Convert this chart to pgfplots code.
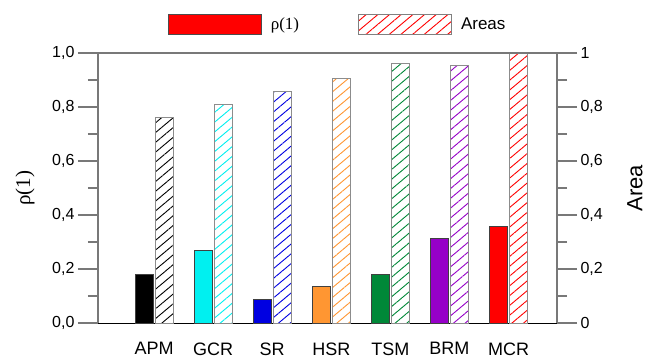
\documentclass[border=0pt]{standalone}
\usepackage{pgfplots}
\pgfplotsset{compat=1.18}
\usepackage{fontspec}
\setmainfont{Liberation Sans}
\newfontfamily\serifrho{Liberation Serif}
\usetikzlibrary{patterns.meta,calc}
\definecolor{cAPM}{RGB}{0,0,0}
\definecolor{cGCR}{RGB}{0,240,240}
\definecolor{cSR}{RGB}{0,0,225}
\definecolor{cHSR}{RGB}{255,150,50}
\definecolor{cTSM}{RGB}{0,136,56}
\definecolor{cBRM}{RGB}{150,0,200}
\definecolor{cMCR}{RGB}{255,0,0}
\definecolor{axgray}{RGB}{120,120,120}
\pgfplotsset{
  common/.style={width=459pt, height=270pt, scale only axis,
    xmin=-0.948, xmax=6.82, ymin=0, ymax=1,
    /pgf/number format/assume math mode=true,
    tick label style={font=\fontsize{16}{19}\selectfont},
    tick align=outside, major tick length=20pt, minor tick length=10pt,
    minor y tick num=1,
    major tick style={draw=axgray, line width=1.2pt},
    minor tick style={draw=axgray, line width=1.2pt},
    ytick={0,0.2,0.4,0.6,0.8,1},
  },
  rhobar/.style={ybar, bar width=0.305, bar shift=0pt, fill=#1, draw=black!75, line width=0.6pt},
  areabar/.style={ybar, bar width=0.305, bar shift=0pt, fill=white, draw=black!45, line width=0.8pt,
    postaction={pattern={Lines[angle=40,distance=7.5pt,line width=0.9pt]}, pattern color=#1}},
}
\begin{document}
\begin{tikzpicture}
\begin{axis}[common, name=ax,
  axis x line*=bottom, axis y line*=left,
  x axis line style={black, line width=0.9pt, -},
  y axis line style={axgray, line width=1.2pt, -},
  xtick={0,1,2,3,4,5,6},
  xticklabels={APM,GCR,SR,HSR,TSM,BRM,MCR},
  xtick style={draw=none},
  xticklabel style={font=\fontsize{18}{21}\selectfont, yshift=4pt},
  yticklabel style={/pgf/number format/fixed, /pgf/number format/fixed zerofill,
    /pgf/number format/precision=1, /pgf/number format/use comma},
  ylabel={\serifrho ρ(1)},
  every axis y label/.style={at={(axis description cs:-0.159,0.5)}, rotate=90, anchor=center,
    font=\fontsize{21}{25}\selectfont},
  legend columns=2,
  legend style={draw=none, fill=none, inner sep=0pt, at={(axis description cs:0.1525,1.107)}, anchor=west,
    font=\fontsize{17}{20}\selectfont,
    /tikz/every odd column/.append style={column sep=7pt},
    /tikz/every even column/.append style={column sep=57pt}},
]
% rho(1) bars
\addplot[rhobar=cAPM, forget plot] coordinates {(-0.17,0.180)};
\addplot[rhobar=cGCR, forget plot] coordinates {(0.83,0.270)};
\addplot[rhobar=cSR, forget plot] coordinates {(1.83,0.088)};
\addplot[rhobar=cHSR, forget plot] coordinates {(2.83,0.135)};
\addplot[rhobar=cTSM, forget plot] coordinates {(3.83,0.180)};
\addplot[rhobar=cBRM, forget plot] coordinates {(4.83,0.315)};
\addplot[rhobar=cMCR,
  legend image code/.code={\draw[fill=cMCR, draw=black!70, line width=0.6pt] (0pt,-10pt) rectangle (93pt,10pt);}]
  coordinates {(5.83,0.360)};
\addlegendentry{\serifrho ρ(1)}
% area bars
\addplot[areabar=cAPM, forget plot] coordinates {(0.17,0.760)};
\addplot[areabar=cGCR, forget plot] coordinates {(1.17,0.808)};
\addplot[areabar=cSR, forget plot] coordinates {(2.17,0.856)};
\addplot[areabar=cHSR, forget plot] coordinates {(3.17,0.905)};
\addplot[areabar=cTSM, forget plot] coordinates {(4.17,0.960)};
\addplot[areabar=cBRM, forget plot] coordinates {(5.17,0.953)};
\addplot[areabar=cMCR,
  legend image code/.code={
    \path[fill=white] (0pt,-10pt) rectangle (93pt,10pt);
    \path[pattern={Lines[angle=60,distance=12pt,line width=0.9pt]}, pattern color=cMCR] (0pt,-10pt) rectangle (93pt,10pt);
    \draw[draw=black!50, line width=0.8pt] (0pt,-10pt) rectangle (93pt,10pt);}]
  coordinates {(6.17,1.0)};
\addlegendentry{Areas}
\end{axis}
\begin{axis}[common,
  axis x line*=top, axis y line*=right,
  x axis line style={axgray, line width=1.2pt, -},
  y axis line style={axgray, line width=1.2pt, -},
  xtick=\empty,
  yticklabel style={/pgf/number format/fixed, /pgf/number format/use comma},
  ylabel={Area},
  every axis y label/.style={at={(axis description cs:1.17,0.5)}, rotate=90, anchor=center,
    font=\fontsize{22}{26}\selectfont},
]
\end{axis}
\pgfresetboundingbox
\path ($(ax.south west)+(-98pt,-38pt)$) rectangle ($(ax.north east)+(89pt,53pt)$);
\end{tikzpicture}
\end{document}
